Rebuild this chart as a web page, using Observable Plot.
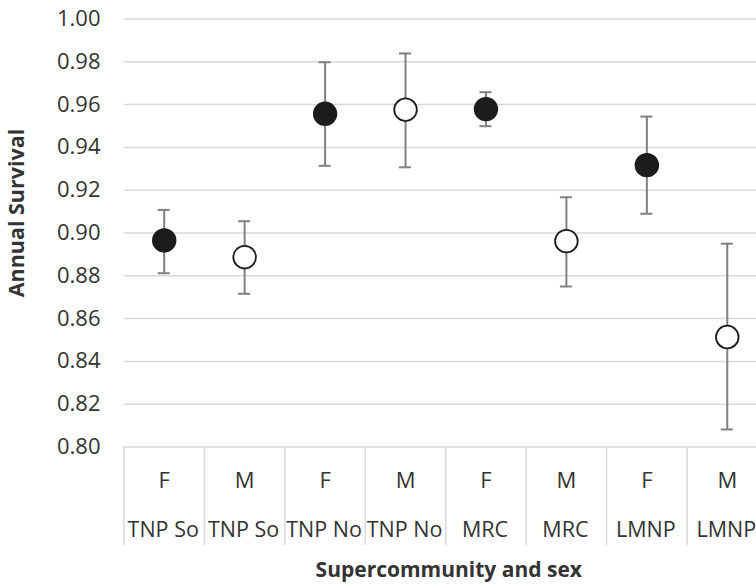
<!DOCTYPE html>
<html>
<head>
<meta charset="utf-8">
<script src="https://cdn.jsdelivr.net/npm/d3@7"></script>
<script src="https://cdn.jsdelivr.net/npm/@observablehq/plot@0.6"></script>
<style>
  html, body { margin: 0; padding: 0; overflow: hidden; background: #fff; }
  #chart svg { display: block; max-width: none !important; }
</style>
</head>
<body>
<div id="chart"></div>
<script>
const communities = ["TNP So", "TNP So", "TNP No", "TNP No", "MRC", "MRC", "LMNP", "LMNP"];
const sexes = ["F", "M", "F", "M", "F", "M", "F", "M"];
const survival = [0.8965, 0.8887, 0.9557, 0.9576, 0.9579, 0.8962, 0.9317, 0.8514];
const lower = [0.8812, 0.8716, 0.9314, 0.9307, 0.9499, 0.8750, 0.9090, 0.8082];
const upper = [0.9108, 0.9055, 0.9798, 0.9839, 0.9658, 0.9167, 0.9544, 0.8950];
const yTicks = [0.80, 0.82, 0.84, 0.86, 0.88, 0.90, 0.92, 0.94, 0.96, 0.98, 1.00];

const data = communities.map((c, i) => ({
  pos: i + 0.5, community: c, sex: sexes[i],
  value: survival[i], lo: lower[i], hi: upper[i]
}));
const boundaries = d3.range(communities.length + 1);

const font = "Open Sans";
const grid = "#d9d9d9";

const chart = Plot.plot({
  width: 767,
  height: 584,
  marginLeft: 123.5,
  marginRight: 0,
  marginTop: 18.5,
  marginBottom: 137.5,
  style: { fontFamily: font, color: "#333", background: "white", maxWidth: "none" },
  x: { domain: [0, communities.length], axis: null },
  y: { domain: [0.80, 1.00], axis: null },
  marks: [
    Plot.gridY(yTicks, { stroke: grid, strokeOpacity: 1, strokeWidth: 1.5 }),
    Plot.axisX({ ticks: boundaries, tickSize: 98.5, tickFormat: () => "", label: null, stroke: grid, strokeWidth: 1.5 }),
    Plot.axisY({ ticks: yTicks, tickSize: 0, tickPadding: 23.5, tickFormat: d3.format(".2f"), fontSize: 22, fill: "#333", label: null }),
    Plot.ruleX(data, { x: "pos", y1: "lo", y2: "hi", stroke: "#808080", strokeWidth: 2 }),
    Plot.ruleY(data, { x1: "pos", x2: "pos", y: "lo", insetLeft: -6, insetRight: -6, stroke: "#808080", strokeWidth: 2 }),
    Plot.ruleY(data, { x1: "pos", x2: "pos", y: "hi", insetLeft: -6, insetRight: -6, stroke: "#808080", strokeWidth: 2 }),
    Plot.dot(data, { x: "pos", y: "value", r: 11.3, fill: d => d.sex === "F" ? "#1c1c1c" : "white", stroke: "#1c1c1c", strokeWidth: 1.8 }),
    Plot.text(data, { x: "pos", text: "sex", frameAnchor: "bottom", lineAnchor: "middle", dy: 33.5, fontSize: 22, fill: "#333" }),
    Plot.text(data, { x: "pos", text: "community", frameAnchor: "bottom", lineAnchor: "middle", dy: 83, dx: -1, fontSize: 21.5, fill: "#333" }),
    Plot.text(["Supercommunity and sex"], { frameAnchor: "bottom", textAnchor: "middle", lineAnchor: "middle", dy: 123, dx: 3, fontSize: 21, fontWeight: "bold", fill: "#333" }),
    Plot.text(["Annual Survival"], { frameAnchor: "left", textAnchor: "middle", lineAnchor: "middle", rotate: -90, dx: -106.5, dy: -20, fontSize: 21.5, fontWeight: "bold", fill: "#333" })
  ]
});
document.getElementById("chart").appendChild(chart);
</script>
</body>
</html>
